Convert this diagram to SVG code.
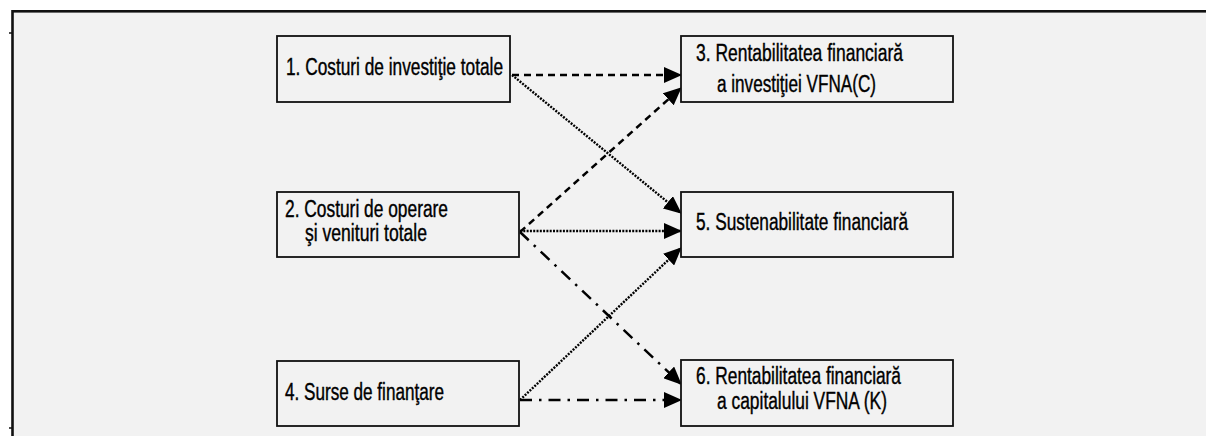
<svg xmlns="http://www.w3.org/2000/svg" width="1206" height="436" viewBox="0 0 1206 436">
  <style>
    .frame { fill: #f2f2f2; stroke: #111; stroke-width: 2.6; }
    .box { fill: #f2f2f2; stroke: #111; stroke-width: 1.8; }
    .lbl { font-family: "Liberation Sans", Arial, sans-serif; font-size: 23px; fill: #000; stroke: #000; stroke-width: 0.4; }
    .edge { fill: none; stroke: #000; }
    .dash { stroke-width: 2.5; stroke-dasharray: 7 5; }
    .dot { stroke-width: 2.4; stroke-dasharray: 2 1.3; }
    .dashdot { stroke-width: 2.5; stroke-dasharray: 12 7 2.5 7; }
  </style>
  <defs>
    <marker id="arrow" markerUnits="userSpaceOnUse" markerWidth="18" markerHeight="16" refX="17" refY="8" orient="auto" viewBox="0 0 18 16">
      <path d="M0,0 L18,8 L0,16 z" fill="#000"/>
    </marker>
  </defs>

  <rect x="0" y="0" width="1206" height="436" fill="#ffffff"/>
  <!-- outer panel, open to the right and bottom -->
  <rect class="frame" x="12.5" y="11.3" width="1220" height="450"/>
  <line x1="9" y1="33" x2="12" y2="33" stroke="#111" stroke-width="1.5"/>
  <line x1="9" y1="428" x2="12" y2="428" stroke="#111" stroke-width="1.5"/>

  <g id="connectors">
    <!-- 1 -> 3 -->
    <line class="edge dash" x1="512" y1="75" x2="681" y2="75" marker-end="url(#arrow)"/>
    <!-- 2 -> 3 -->
    <line class="edge dash" x1="520" y1="232" x2="681" y2="88" marker-end="url(#arrow)"/>
    <!-- 1 -> 5 -->
    <line class="edge dot" x1="512" y1="75" x2="681" y2="213" marker-end="url(#arrow)"/>
    <!-- 2 -> 5 -->
    <line class="edge dot" x1="520" y1="231" x2="681" y2="231" marker-end="url(#arrow)"/>
    <!-- 4 -> 5 -->
    <line class="edge dot" x1="520" y1="400" x2="681" y2="248" marker-end="url(#arrow)"/>
    <!-- 2 -> 6 -->
    <line class="edge dashdot" x1="520" y1="232" x2="681" y2="384" marker-end="url(#arrow)"/>
    <!-- 4 -> 6 -->
    <line class="edge dashdot" x1="520" y1="400" x2="681" y2="400" marker-end="url(#arrow)"/>
  </g>

  <g id="node1">
    <rect class="box" x="277" y="36" width="233" height="66"/>
    <text class="lbl" x="286" y="75" textLength="217" lengthAdjust="spacingAndGlyphs">1. Costuri de investiţie totale</text>
  </g>

  <g id="node2">
    <rect class="box" x="277" y="192" width="242" height="65"/>
    <text class="lbl" x="285" y="217" textLength="163" lengthAdjust="spacingAndGlyphs">2. Costuri de operare</text>
    <text class="lbl" x="305" y="241" textLength="122" lengthAdjust="spacingAndGlyphs">şi venituri totale</text>
  </g>

  <g id="node4">
    <rect class="box" x="277" y="361" width="242" height="65"/>
    <text class="lbl" x="285" y="400" textLength="159" lengthAdjust="spacingAndGlyphs">4. Surse de finanţare</text>
  </g>

  <g id="node3">
    <rect class="box" x="681" y="36" width="272" height="66"/>
    <text class="lbl" x="696" y="61" textLength="207" lengthAdjust="spacingAndGlyphs">3. Rentabilitatea financiară</text>
    <text class="lbl" x="717" y="92" textLength="159" lengthAdjust="spacingAndGlyphs">a investiţiei VFNA(C)</text>
  </g>

  <g id="node5">
    <rect class="box" x="681" y="192" width="272" height="65"/>
    <text class="lbl" x="696" y="230" textLength="212" lengthAdjust="spacingAndGlyphs">5. Sustenabilitate financiară</text>
  </g>

  <g id="node6">
    <rect class="box" x="681" y="360" width="272" height="66"/>
    <text class="lbl" x="696" y="384" textLength="205" lengthAdjust="spacingAndGlyphs">6. Rentabilitatea financiară</text>
    <text class="lbl" x="717" y="409" textLength="170" lengthAdjust="spacingAndGlyphs">a capitalului VFNA (K)</text>
  </g>
</svg>
